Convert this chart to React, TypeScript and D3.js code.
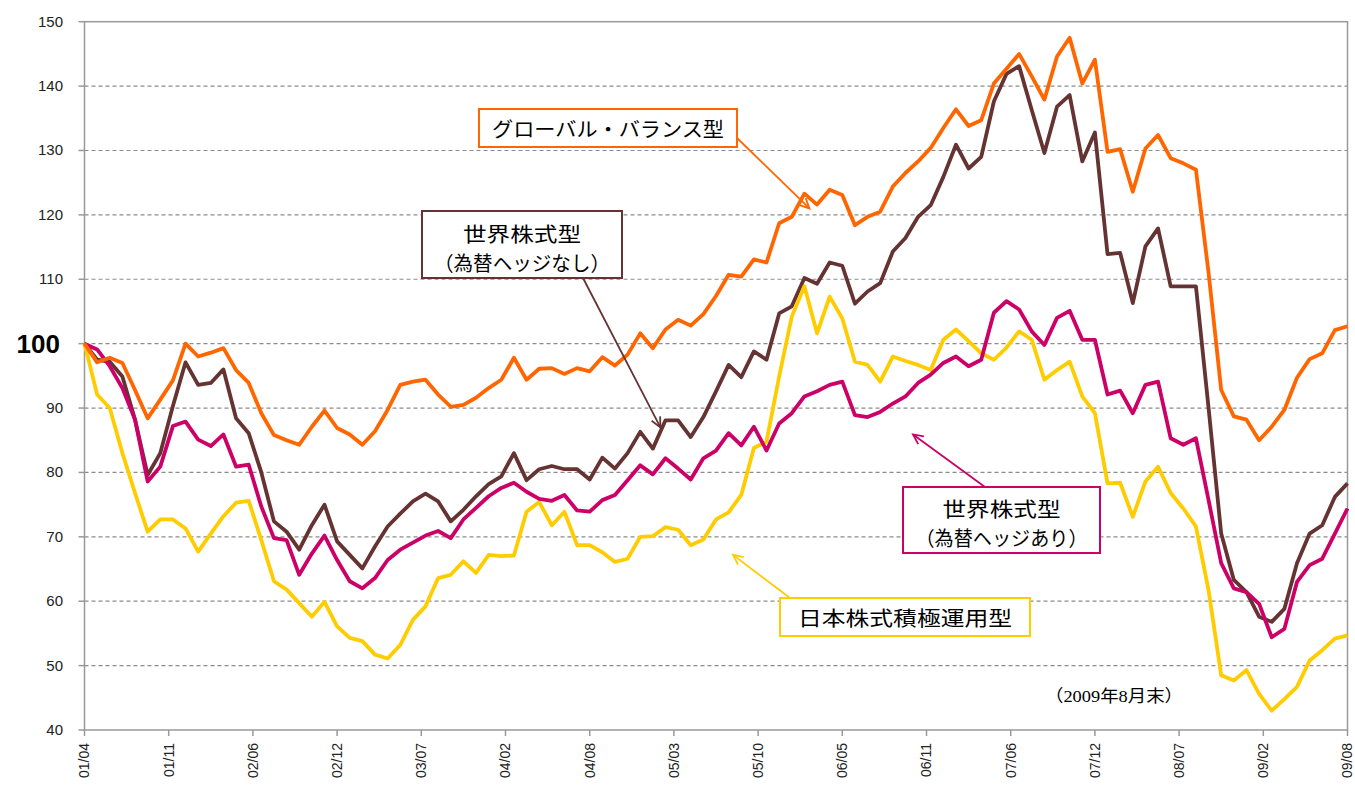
import * as d3 from "d3"

// month index 0 = 2001/04 ... 100 = 2009/08, base 100
const xTickLabels = [
  "01/04", "01/11", "02/06", "02/12", "03/07", "04/02", "04/08", "05/03",
  "05/10", "06/05", "06/11", "07/06", "07/12", "08/07", "09/02", "09/08",
]
const yTicks = [40, 50, 60, 70, 80, 90, 100, 110, 120, 130, 140, 150]

const globalBalance = [
  100, 97.1, 97.8, 97.0, 92.8, 88.4, 91.3, 94.3, 100, 98, 98.6, 99.3, 95.9, 93.9, 89.2, 85.8, 85.0, 84.3,
  87.1, 89.6, 86.9, 85.9, 84.3, 86.4, 89.7, 93.6, 94.1, 94.4, 92.1, 90.2, 90.5, 91.6, 93.1, 94.4,
  97.8, 94.4, 96.1, 96.2, 95.3, 96.2, 95.7, 97.9, 96.6, 98.3, 101.6, 99.3, 102.2, 103.7, 102.8, 104.6,
  107.4, 110.7, 110.4, 113.1, 112.6, 118.7, 119.7, 123.3, 121.6, 123.9, 123.1, 118.4, 119.7, 120.5, 124.4, 126.5,
  128.3, 130.4, 133.5, 136.4, 133.8, 134.7, 140.4, 142.7, 145.0, 141.5, 137.9, 144.6, 147.5, 140.4, 144.1, 129.8,
  130.2, 123.6, 130.3, 132.4, 128.8, 128.0, 127.0, 111, 92.8, 88.7, 88.2, 85.0, 87.1, 89.7, 94.7, 97.6,
  98.5, 102.1, 102.7,
]
const worldUnhedged = [
  100, 97.5, 97.2, 94.9, 88.2, 79.6, 83.0, 90.3, 97.1, 93.6, 93.9, 96.0, 88.4, 86.1, 80.0, 72.4, 70.8, 68.0,
  71.8, 75.0, 69.3, 67.2, 65.1, 68.5, 71.6, 73.6, 75.5, 76.7, 75.5, 72.4, 74.2, 76.3, 78.2, 79.4,
  83.0, 78.8, 80.5, 81.0, 80.5, 80.5, 78.9, 82.3, 80.6, 83.0, 86.3, 83.7, 88.1, 88.1, 85.5, 88.6,
  92.6, 96.7, 94.8, 98.8, 97.5, 104.7, 105.8, 110.2, 109.3, 112.6, 112.1, 106.2, 108.1, 109.4, 114.3, 116.4,
  119.7, 121.5, 125.9, 130.9, 127.2, 129.0, 137.6, 141.9, 143.1, 136.3, 129.6, 136.8, 138.6, 128.3, 132.8, 113.9,
  114.1, 106.3, 115.1, 117.9, 108.9, 108.9, 108.9, 90.0, 70.5, 63.3, 61.4, 57.6, 56.8, 58.8, 65.9, 70.5,
  71.8, 76.2, 78.3,
]
const worldHedged = [
  100, 99.1, 96.5, 93.1, 88.2, 78.6, 80.9, 87.2, 87.9, 85.1, 84.1, 85.9, 80.9, 81.2, 74.7, 69.8, 69.5, 64.1,
  67.4, 70.2, 66.4, 63.1, 62.0, 63.6, 66.4, 68.0, 69.1, 70.2, 70.9, 69.8, 72.7, 74.5, 76.3, 77.6,
  78.4, 77.0, 75.9, 75.6, 76.5, 74.1, 73.9, 75.7, 76.5, 78.8, 81.1, 79.7, 82.2, 80.6, 78.9, 82.2,
  83.4, 86.1, 84.2, 87.1, 83.4, 87.6, 89.2, 91.8, 92.6, 93.6, 94.1, 88.9, 88.6, 89.4, 90.7, 91.8,
  93.9, 95.2, 97.0, 98.0, 96.5, 97.5, 104.8, 106.6, 105.3, 101.9, 99.8, 104.0, 105.1, 100.6, 100.6, 92.1,
  92.7, 89.2, 93.6, 94.1, 85.3, 84.3, 85.3, 75.7, 65.9, 62.0, 61.4, 59.6, 54.4, 55.7, 63.0, 65.6,
  66.6, 70.5, 74.4,
]
const japanActive = [
  100, 92.1, 90.0, 83.0, 76.8, 70.8, 72.7, 72.7, 71.3, 67.7, 70.5, 73.2, 75.3, 75.6, 69.5, 63.1, 61.8, 59.7,
  57.6, 59.9, 56.1, 54.3, 53.8, 51.7, 51.1, 53.2, 57.1, 59.2, 63.6, 64.1, 66.2, 64.4, 67.2, 67.0,
  67.1, 73.9, 75.4, 71.8, 73.9, 68.7, 68.7, 67.6, 66.1, 66.6, 70.0, 70.1, 71.5, 71.1, 68.7, 69.6,
  72.7, 73.8, 76.5, 83.8, 84.8, 94.9, 104.2, 108.9, 101.6, 107.3, 103.9, 97.2, 96.7, 94.1, 98.0, 97.3,
  96.7, 95.9, 100.6, 102.2, 100.4, 98.5, 97.5, 99.4, 101.9, 100.6, 94.4, 95.9, 97.2, 91.8, 89.2, 78.3,
  78.4, 73.1, 78.6, 80.9, 76.8, 74.4, 71.6, 61.7, 48.5, 47.7, 49.3, 45.6, 43.0, 44.8, 46.7, 50.8,
  52.4, 54.2, 54.7,
]

const series = [
  { id: "unhedged", values: worldUnhedged, color: "#663333" },
  { id: "japan", values: japanActive, color: "#FFCC00" },
  { id: "hedged", values: worldHedged, color: "#CC0066" },
  { id: "balance", values: globalBalance, color: "#FF6600" },
]

// callout boxes (pixel box), arrow tip in data space [month index, value]
const notes = [
  {
    id: "balance", color: "#FF6600", box: [479, 109, 258, 38], from: [737, 138], tip: [57.4, 121],
    lines: [{ t: "グローバル・バランス型", dy: 19, len: 232 }],
  },
  {
    id: "unhedged", color: "#663333", box: [422, 211, 200, 67], from: [583, 278], tip: [45.6, 87],
    lines: [{ t: "世界株式型", dy: 22, len: 118 }, { t: "（為替ヘッジなし）", dy: 51, len: 176 }],
  },
  {
    id: "hedged", color: "#CC0066", box: [903, 487, 197, 66], from: [985, 487], tip: [65.6, 85.9],
    lines: [{ t: "世界株式型", dy: 21, len: 118 }, { t: "（為替ヘッジあり）", dy: 50, len: 172 }],
  },
  {
    id: "japan", color: "#FFCC00", box: [780, 598, 250, 38], from: [790, 598], tip: [51.35, 67.2],
    lines: [{ t: "日本株式積極運用型", dy: 19, len: 214 }],
  },
]

const W = 1355
const H = 785
const left = 84.5
const right = 1347.5
const top = 21.7
const bottom = 730
const grid = "#999999"
const sans = "'Liberation Sans', Arial, sans-serif"
const jp = "'Noto Sans CJK JP', sans-serif"

export default function App() {
  const n = globalBalance.length
  const x = d3.scaleLinear().domain([0, n - 1]).range([left, right])
  const y = d3.scaleLinear().domain([40, 150]).range([bottom, top])
  const line = d3
    .line<number>()
    .x((_, i) => x(i))
    .y((d) => y(d))

  const xt = xTickLabels.map((l, k) => ({ l, px: x((k * (n - 1)) / (xTickLabels.length - 1)) }))

  return (
    <svg
      width={W}
      height={H}
      viewBox={`0 0 ${W} ${H}`}
      style={{ position: "absolute", left: 0, top: 0, background: "#fff" }}
    >
      <rect x={0} y={0} width={W} height={H} fill="#fff" />

      {/* grid */}
      {yTicks
        .filter((t) => t > 40 && t < 150)
        .map((t) => (
          <line
            key={t}
            x1={left}
            x2={right}
            y1={y(t)}
            y2={y(t)}
            stroke="#8c8c8c"
            strokeWidth={1.2}
            strokeDasharray="4 3"
          />
        ))}

      {/* plot frame */}
      <rect x={left} y={top} width={right - left} height={bottom - top} fill="none" stroke={grid} strokeWidth={1.5} />

      {/* y axis */}
      {yTicks.map((t) => (
        <g key={t}>
          <line x1={left - 6} x2={left} y1={y(t)} y2={y(t)} stroke={grid} strokeWidth={1.5} />
          {t === 100 ? (
            <text
              x={60}
              y={y(t) + 9}
              textAnchor="end"
              fontFamily={sans}
              fontWeight={700}
              fontSize={26}
              fill="#000"
            >
              {t}
            </text>
          ) : (
            <text
              x={63}
              y={y(t) + 5}
              textAnchor="end"
              fontFamily={sans}
              fontSize={15}
              fill="#222"
            >
              {t}
            </text>
          )}
        </g>
      ))}

      {/* x axis */}
      {xt.map((d) => (
        <g key={d.l}>
          <line x1={d.px} x2={d.px} y1={bottom} y2={bottom + 6} stroke={grid} strokeWidth={1.5} />
          <text
            transform={`translate(${d.px},${bottom + 13}) rotate(-90)`}
            textAnchor="end"
            dy="0.35em"
            fontFamily={sans}
            fontSize={14}
            fill="#222"
          >
            {d.l}
          </text>
        </g>
      ))}

      {/* series */}
      {series.map((s) => (
        <path
          key={s.id}
          d={line(s.values) ?? ""}
          fill="none"
          stroke={s.color}
          strokeWidth={3.8}
          strokeLinejoin="round"
        />
      ))}

      {/* callouts */}
      {notes.map((nt) => {
        const [bx, by, bw, bh] = nt.box
        const tx = x(nt.tip[0])
        const ty = y(nt.tip[1])
        const a = Math.atan2(ty - nt.from[1], tx - nt.from[0])
        const hl = 11
        const sp = 0.45
        const h1 = [tx - hl * Math.cos(a - sp), ty - hl * Math.sin(a - sp)]
        const h2 = [tx - hl * Math.cos(a + sp), ty - hl * Math.sin(a + sp)]
        return (
          <g key={nt.id}>
            <line
              x1={nt.from[0]}
              y1={nt.from[1]}
              x2={tx}
              y2={ty}
              stroke={nt.color}
              strokeWidth={1.8}
            />
            <polyline
              points={`${h1[0]},${h1[1]} ${tx},${ty} ${h2[0]},${h2[1]}`}
              fill="none"
              stroke={nt.color}
              strokeWidth={1.8}
            />
            <rect x={bx} y={by} width={bw} height={bh} fill="#fff" stroke={nt.color} strokeWidth={2} />
            {nt.lines.map((ln) => (
              <text
                key={ln.t}
                x={bx + bw / 2}
                y={by + ln.dy}
                textAnchor="middle"
                dominantBaseline="central"
                fontFamily={jp}
                fontSize={20}
                textLength={ln.len}
                lengthAdjust="spacingAndGlyphs"
                fill="#000"
              >
                {ln.t}
              </text>
            ))}
          </g>
        )
      })}

      <text
        x={1114}
        y={702}
        textAnchor="middle"
        fontFamily="'Liberation Serif', 'Noto Sans CJK JP', serif"
        fontSize={17}
        textLength={138}
        lengthAdjust="spacingAndGlyphs"
        fill="#000"
      >
        （2009年8月末）
      </text>
    </svg>
  )
}
